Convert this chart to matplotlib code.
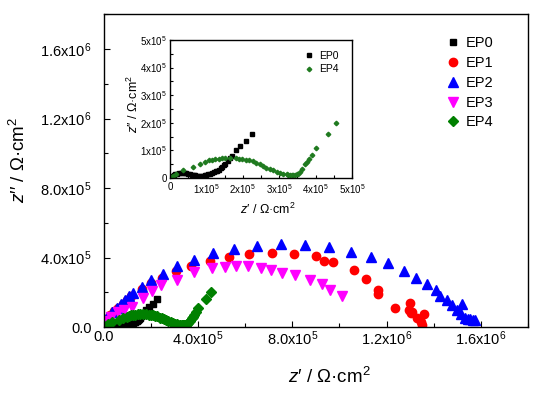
import matplotlib
matplotlib.use("Agg")
import matplotlib.pyplot as plt
from matplotlib.ticker import FixedLocator, MultipleLocator, FuncFormatter

import numpy as np

OUTPUT = "out.png"

# EP0 (black squares)
ep0_re = [0.02, 0.05, 0.10, 0.15, 0.20, 0.25, 0.30, 0.35, 0.40, 0.45, 0.50, 0.55, 0.60,
          0.65, 0.70, 0.75, 0.80, 0.85, 0.90, 0.95, 1.00, 1.05, 1.10, 1.15, 1.20, 1.25,
          1.30, 1.34, 1.39, 1.43, 1.48, 1.52, 1.59, 1.66, 1.71, 1.80, 1.93, 2.08, 2.25]
ep0_im = [0.03, 0.07, 0.11, 0.14, 0.16, 0.175, 0.18, 0.18, 0.175, 0.165, 0.15, 0.135, 0.12,
          0.105, 0.095, 0.088, 0.085, 0.085, 0.09, 0.10, 0.115, 0.13, 0.15, 0.18, 0.21, 0.24,
          0.27, 0.30, 0.35, 0.40, 0.46, 0.52, 0.62, 0.72, 0.80, 1.00, 1.15, 1.33, 1.60]

# EP1 (red circles)
ep1_re = [0.05, 0.12, 0.25, 0.42, 0.61, 0.79, 0.96, 1.17, 1.60, 1.99, 2.47, 3.05, 3.71,
          4.49, 5.33, 6.16, 7.14, 8.09, 9.00, 9.33, 9.74, 10.62, 11.12, 11.63, 11.63,
          12.37, 12.98, 12.95, 13.02, 13.10, 13.60, 13.31, 13.45, 13.52]
ep1_im = [0.20, 0.45, 0.69, 0.93, 1.12, 1.35, 1.54, 1.77, 2.21, 2.53, 2.84, 3.20, 3.54,
          3.83, 4.06, 4.21, 4.25, 4.21, 4.07, 3.83, 3.73, 3.30, 2.74, 2.15, 1.89,
          1.07, 1.39, 0.97, 0.80, 0.85, 0.76, 0.50, 0.30, 0.11]

# EP2 (blue triangles)
ep2_re = [0.04, 0.14, 0.33, 0.54, 0.71, 0.89, 1.07, 1.24, 1.60, 1.99, 2.51, 3.10, 3.81,
          4.63, 5.52, 6.49, 7.52, 8.54, 9.54, 10.49, 11.33, 12.06, 12.74, 13.24, 13.70,
          14.08, 14.29, 14.58, 14.79, 15.21, 15.00, 15.18, 15.35, 15.45, 15.56, 15.66, 15.77]
ep2_im = [0.40, 0.59, 0.87, 1.12, 1.35, 1.54, 1.77, 1.96, 2.30, 2.69, 3.07, 3.49, 3.87,
          4.25, 4.50, 4.69, 4.78, 4.74, 4.59, 4.30, 4.02, 3.67, 3.22, 2.84, 2.46,
          2.11, 1.77, 1.54, 1.26, 1.35, 0.97, 0.74, 0.55, 0.48, 0.44, 0.42, 0.40]

# EP3 (magenta down triangles)
ep3_re = [0.03, 0.10, 0.30, 0.60, 0.85, 1.19, 1.64, 2.02, 2.44, 3.12, 3.82, 4.60, 5.16,
          5.62, 6.13, 6.68, 7.10, 7.56, 8.13, 8.76, 9.24, 9.61, 10.09]
ep3_im = [0.15, 0.35, 0.60, 0.85, 1.00, 1.16, 1.67, 2.07, 2.40, 2.72, 3.16, 3.41, 3.45,
          3.54, 3.52, 3.39, 3.26, 3.10, 3.01, 2.69, 2.50, 2.11, 1.77]

# EP4 (green diamonds)
ep4_re = [0.02, 0.09, 0.17, 0.36, 0.64, 0.82, 0.96, 1.06, 1.15, 1.24, 1.34, 1.43, 1.52,
          1.66, 1.80, 1.90, 1.99, 2.08, 2.18, 2.27, 2.36, 2.46, 2.55, 2.64, 2.74, 2.83,
          2.93, 3.02, 3.11, 3.21, 3.25, 3.30, 3.35, 3.39, 3.44, 3.49, 3.53, 3.58, 3.64,
          3.72, 3.77, 3.81, 3.89, 4.00, 4.33, 4.55]
ep4_im = [0.02, 0.085, 0.16, 0.28, 0.40, 0.50, 0.58, 0.64, 0.67, 0.70, 0.70, 0.73, 0.73,
          0.73, 0.73, 0.70, 0.70, 0.67, 0.64, 0.61, 0.54, 0.50, 0.44, 0.38, 0.34, 0.28,
          0.22, 0.19, 0.16, 0.13, 0.125, 0.12, 0.12, 0.12, 0.125, 0.13, 0.16, 0.22, 0.34,
          0.52, 0.58, 0.70, 0.85, 1.07, 1.60, 2.00]

labels = ["EP0", "EP1", "EP2", "EP3", "EP4"]
colors = ["black", "#ff0000", "#0000ff", "#ff00ff", "#008000"]
markers = ["s", "o", "^", "v", "D"]
msizes = [4.5, 6, 6.5, 6.5, 4.8]

main_ticks = [0, 4e5, 8e5, 1.2e6, 1.6e6]
inset_ticks = [0, 1e5, 2e5, 3e5, 4e5, 5e5]


def load_settings():
    plt.rcParams['font.family'] = ['Liberation Sans', 'DejaVu Sans']
    plt.rcParams['mathtext.fontset'] = 'custom'
    plt.rcParams['mathtext.rm'] = 'Liberation Sans'
    plt.rcParams['mathtext.it'] = 'Liberation Sans:italic'


def main_fmt(v, pos):
    if v == 0:
        return "0.0"
    e = int(np.floor(np.log10(v)))
    return r"$\mathregular{%.1fx10^{%d}}$" % (v / 10 ** e, e)


def inset_fmt(v, pos):
    if v == 0:
        return "0"
    e = int(np.floor(np.log10(v)))
    return r"$\mathregular{%dx10^{%d}}$" % (round(v / 10 ** e), e)


def style_axis(ax, ticks, minor, fmt, size, length, xpad, ypad):
    ax.xaxis.set_major_locator(FixedLocator(ticks))
    ax.yaxis.set_major_locator(FixedLocator(ticks))
    ax.xaxis.set_minor_locator(MultipleLocator(minor))
    ax.yaxis.set_minor_locator(MultipleLocator(minor))
    ax.xaxis.set_major_formatter(FuncFormatter(fmt))
    ax.yaxis.set_major_formatter(FuncFormatter(fmt))
    ax.tick_params(which='both', direction='in', top=False, right=False,
                   length=length, width=0.8, labelsize=size)
    ax.tick_params(which='minor', length=length * 0.8)
    ax.tick_params(axis='x', which='major', pad=xpad)
    ax.tick_params(axis='y', which='major', pad=ypad)
    for s in ax.spines.values():
        s.set_linewidth(1.0)


load_settings()
fig = plt.figure(figsize=(5.47, 3.96), dpi=100)

ax = fig.add_axes([0.190, 0.174, 0.775, 0.790])
series = [(ep0_re, ep0_im), (ep1_re, ep1_im), (ep2_re, ep2_im), (ep3_re, ep3_im), (ep4_re, ep4_im)]
for (xr, yi), lab, c, m, ms in zip(series, labels, colors, markers, msizes):
    ax.plot(np.array(xr) * 1e5, np.array(yi) * 1e5, linestyle='none', marker=m,
            markersize=ms, color=c, markeredgecolor=c, label=lab)
ax.set_xlim(0, 1.8e6)
ax.set_ylim(0, 1.8e6)
style_axis(ax, main_ticks, 2e5, main_fmt, 10.5, 4, 2, 9)
ax.legend(loc='upper left', bbox_to_anchor=(0.806, 0.93), frameon=False, fontsize=10.5,
          handlelength=1, handletextpad=0.4, labelspacing=0.4, borderpad=0, borderaxespad=0)

fig.text(329 / 547, 1 - 383 / 396, r"$\mathit{z}$′ / Ω·cm$^{2}$", fontsize=13.5,
         ha='center', va='baseline')
fig.text(19 / 547, 1 - 160 / 396, r"$\mathit{z}$′′ / Ω·cm$^{2}$", fontsize=13.5,
         ha='center', va='center', rotation=90)

ins = fig.add_axes([0.3108, 0.5505, 0.3327, 0.3485])
ins.plot(np.array(ep0_re) * 1e5, np.array(ep0_im) * 1e5, linestyle='none', marker='s',
         markersize=2.5, color='black', label='EP0')
ins.plot(np.array(ep4_re) * 1e5, np.array(ep4_im) * 1e5, linestyle='none', marker='D',
         markersize=2.3, color='#1f7a1f', label='EP4')
ins.set_xlim(0, 5e5)
ins.set_ylim(0, 5e5)
style_axis(ins, inset_ticks, 0.5e5, inset_fmt, 7, 2.5, 3, 2)
ins.legend(loc='upper left', bbox_to_anchor=(0.735, 0.92), frameon=False, fontsize=7.5,
           handlelength=1, handletextpad=0.45, labelspacing=0.3, borderpad=0, borderaxespad=0)

fig.text(268 / 547, 1 - 209 / 396, r"$\mathit{z}$′ / Ω·cm$^{2}$", fontsize=9,
         ha='center', va='center')
fig.text(133 / 547, 1 - 104 / 396, r"$\mathit{z}$′′ / Ω·cm$^{2}$", fontsize=9,
         ha='center', va='center', rotation=90)

fig.savefig(OUTPUT, dpi=100)
